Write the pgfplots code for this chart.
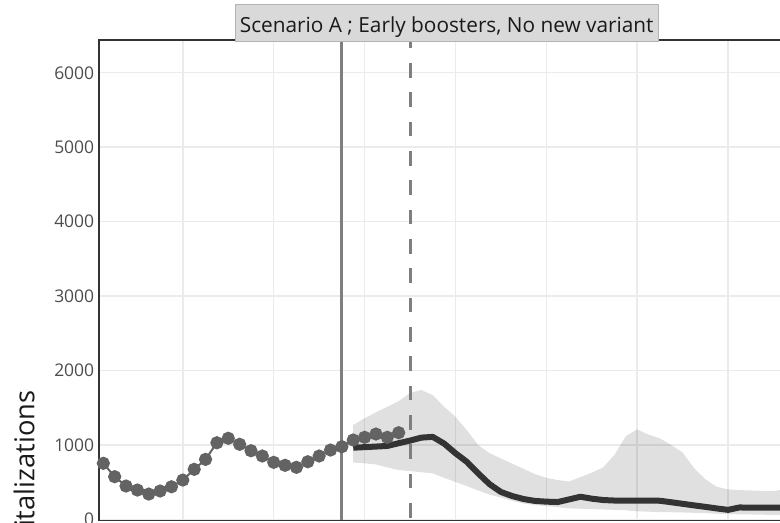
\documentclass[border=0pt]{standalone}
\usepackage{fontspec}
\setmainfont{Open Sans}
\usepackage{pgfplots}
\pgfplotsset{compat=1.18}

\definecolor{gridgray}{HTML}{EBEBEB}
\definecolor{framecol}{HTML}{333333}
\definecolor{ticktext}{HTML}{4D4D4D}
\definecolor{obscol}{HTML}{636363}
\definecolor{projcol}{HTML}{333333}
\definecolor{vlinecol}{HTML}{7F7F7F}
\definecolor{stripfill}{HTML}{D9D9D9}
\definecolor{stripdraw}{HTML}{B3B3B3}
\definecolor{titletext}{HTML}{1A1A1A}

\begin{document}
\begin{tikzpicture}
\begin{axis}[
  at={(0,0)}, anchor=south west,
  scale only axis, width=525.75pt, height=360.375pt,
  xmin=-0.38, xmax=61.33, ymin=-13, ymax=6440,
  xtick={7,15,...,63}, xticklabels={},
  ytick={0,1000,...,6000},
  scaled y ticks=false,
  /pgf/number format/1000 sep={},
  /pgf/number format/assume math mode=true,
  grid=major,
  major grid style={color=gridgray, line width=1.1pt},
  major tick length=0pt,
  axis line style={color=framecol, line width=1.4pt},
  yticklabel style={font=\fontsize{13.1}{13.1}\selectfont, color=ticktext,
                    inner xsep=0pt, xshift=-3.4pt},
]
% 95% projection band: upper bound forward, lower bound backward
\addplot[fill=black, fill opacity=0.12, draw=none] coordinates {
  (22,1270) (23,1360) (24,1440) (25,1515) (26,1590) (27,1700) (28,1740)
  (29,1670) (30,1515) (31,1380) (32,1200) (33,1000) (34,890) (35,820)
  (36,750) (37,680) (38,610) (39,560) (40,530) (41,510) (42,570) (43,630)
  (44,700) (45,870) (46,1120) (47,1210) (48,1140) (49,1090) (50,1000)
  (51,900) (52,690) (53,540) (54,440) (55,405) (56,395) (57,390) (58,385)
  (59,380) (60,410) (61,420)
  (61,58) (60,60) (59,62) (58,65) (57,68) (56,70) (55,74) (54,78) (53,85)
  (52,90) (51,95) (50,98) (49,100) (48,105) (47,110) (46,125) (45,130)
  (44,135) (43,140) (42,145) (41,150) (40,165) (39,180) (38,195) (37,215)
  (36,250) (35,295) (34,335) (33,390) (32,450) (31,505) (30,560) (29,620)
  (28,635) (27,650) (26,665) (25,700) (24,740) (23,755) (22,765)};
% last data week and projection start
\addplot[vlinecol, line width=2.25pt] coordinates {(21,-13) (21,6440)};
\addplot[vlinecol, line width=2.25pt, dash pattern=on 11pt off 11pt, dash phase=4.7pt]
  coordinates {(27,6440) (27,-13)};
% observed hospitalizations
\addplot[obscol, line width=1.5pt, mark=*, mark size=4.2pt,
         mark options={solid, fill=obscol, draw=none}] coordinates {
  (0,755) (1,575) (2,450) (3,396) (4,342) (5,383) (6,440) (7,530) (8,674)
  (9,808) (10,1031) (11,1091) (12,1010) (13,924) (14,853) (15,768) (16,728)
  (17,701) (18,776) (19,853) (20,933) (21,978) (22,1068) (23,1104) (24,1148)
  (25,1104) (26,1166)};
% projected median
\addplot[projcol, line width=4.5pt, line join=round] coordinates {
  (22,965) (23,972) (24,980) (25,988) (26,1025) (27,1060) (28,1100) (29,1110)
  (30,1020) (31,890) (32,775) (33,620) (34,475) (35,370) (36,315) (37,275)
  (38,250) (39,240) (40,235) (41,270) (42,306) (43,280) (44,262) (45,255)
  (46,255) (47,255) (48,255) (49,252) (50,232) (51,211) (52,190) (53,170)
  (54,149) (55,130) (56,162) (57,160) (58,160) (59,160) (60,160) (61,160)};
\end{axis}
% facet strip
\node[fill=stripfill, draw=stripdraw, line width=0.8pt, minimum width=317.5pt,
      minimum height=27.5pt, inner sep=0pt] at (260.8pt,372.9pt) {};
\node[anchor=base, inner sep=0pt, text=titletext,
      font=\fontsize{15.6}{15.6}\selectfont] at (260.8pt,366.15pt)
  {Scenario A ; Early boosters, No new variant};
% y-axis title
\node[rotate=90, anchor=base, inner sep=0pt, text=titletext,
      font=\fontsize{20.5}{20.5}\selectfont] at (-48.5pt,21.4pt) {Hospitalizations};
% visible window of the panel
\pgfresetboundingbox
\useasboundingbox (-74.25pt,-1.875pt) rectangle (510.75pt,390.375pt);
\end{tikzpicture}
\end{document}
